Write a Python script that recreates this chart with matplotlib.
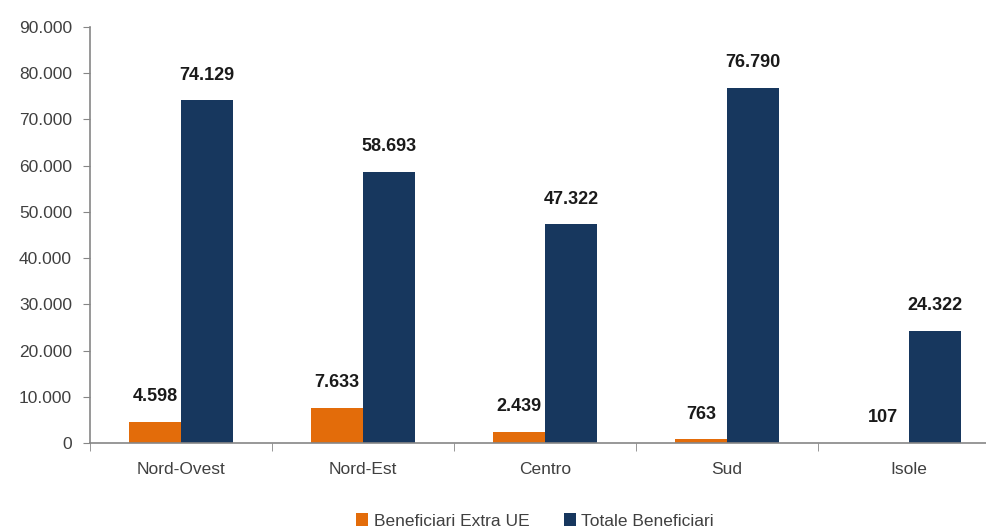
import numpy as np
import matplotlib
matplotlib.use("Agg")
import matplotlib.pyplot as plt
from matplotlib.ticker import FuncFormatter

plt.rcParams['font.family'] = ['Liberation Sans', 'DejaVu Sans']

regioni = ['Nord-Ovest', 'Nord-Est', 'Centro', 'Sud', 'Isole']
extra_ue = [4598, 7633, 2439, 763, 107]
totale = [74129, 58693, 47322, 76790, 24322]
series_names = ['Beneficiari Extra UE', 'Totale Beneficiari']

col_orange = '#E36C0A'
col_navy = '#17375E'
axis_col = '#868686'
text_col = '#404040'


def it_fmt(v):
    return f"{int(round(v)):,}".replace(',', '.')


fig = plt.figure(figsize=(9.87, 5.31), dpi=100)
ax = fig.add_axes([90 / 987, 88 / 531, 910 / 987, 416 / 531])

x = np.arange(len(regioni))
w = 0.286
b1 = ax.bar(x - w / 2, extra_ue, w, color=col_orange, label=series_names[0])
b2 = ax.bar(x + w / 2, totale, w, color=col_navy, label=series_names[1])

# etichette con i valori sopra le barre
for bars in (b1, b2):
    for r in bars:
        ax.annotate(it_fmt(r.get_height()),
                    (r.get_x() + r.get_width() / 2, r.get_height()),
                    xytext=(0, 12), textcoords='offset points',
                    ha='center', va='bottom', fontsize=13, fontweight='bold',
                    color='#1a1a1a')

ax.set_ylim(0, 90000)
ax.set_yticks(np.arange(0, 90001, 10000))
ax.yaxis.set_major_formatter(FuncFormatter(lambda v, p: it_fmt(v)))
ax.set_xlim(-0.5, len(regioni) - 0.5)
ax.set_xticks(x)
ax.set_xticklabels(regioni)
ax.set_xticks(np.arange(-0.5, len(regioni) - 0.5, 1), minor=True)

for s in ['top', 'right']:
    ax.spines[s].set_visible(False)
for s in ['left', 'bottom']:
    ax.spines[s].set_color(axis_col)
    ax.spines[s].set_linewidth(1.2)

ax.tick_params(axis='y', length=5, color=axis_col, labelsize=12.5,
               labelcolor=text_col, pad=8)
ax.tick_params(axis='x', which='major', length=0, labelsize=12.5,
               labelcolor=text_col, pad=14)
ax.tick_params(axis='x', which='minor', length=6, color=axis_col)

fig.legend(handles=[b1, b2], labels=series_names, loc='center',
           bbox_to_anchor=(535 / 987, 1 - 521 / 531), ncol=2, frameon=False,
           fontsize=12.5, handlelength=0.7, handleheight=0.7,
           handletextpad=0.3, columnspacing=2.0, labelcolor=text_col)

fig.savefig('out.png', dpi=100)
